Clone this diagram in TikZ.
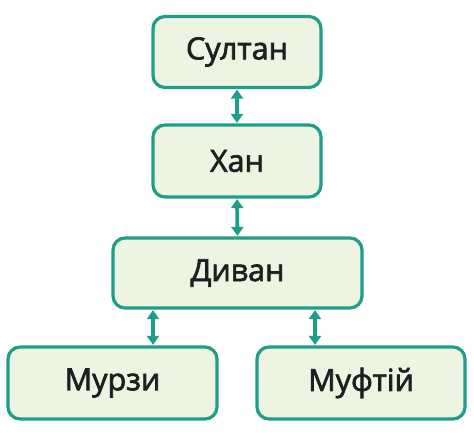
\documentclass[tikz,border=0pt]{standalone}
\usepackage{fontspec}
\newfontfamily\lblfont{Open Sans}[FakeBold=2.2]
\usetikzlibrary{arrows.meta}
\definecolor{edge}{HTML}{1E9E88}
\definecolor{boxfill}{HTML}{EDF4E2}
\tikzset{
  box/.style={draw=edge, line width=3.2pt, fill=boxfill, rounded corners=12pt,
    inner sep=0pt, font=\lblfont\fontsize{30.5}{33}\selectfont, text=black!88},
  link/.style={draw=edge, line width=3.8pt, {Triangle[width=12pt,length=9pt]}-{Triangle[width=12pt,length=9pt]}, shorten <=0.5pt, shorten >=0.5pt}
}
\begin{document}
\begin{tikzpicture}[x=1pt,y=-1pt]
\useasboundingbox (0,0) rectangle (474,433);
\node[box, minimum width=168pt, minimum height=71pt] (sultan) at (237,52) {Султан};
\node[box, minimum width=168pt, minimum height=72pt] (khan) at (237,161) {Хан};
\node[box, minimum width=249pt, minimum height=70pt] (divan) at (237.5,273) {Диван};
\node[box, minimum width=209pt, minimum height=72pt] (murzy) at (112.5,383) {Мурзи};
\node[box, minimum width=208pt, minimum height=72pt] (mufti) at (361,383) {Муфтій};
\draw[link] (sultan.south) -- (khan.north);
\draw[link] (khan.south) -- (divan.north);
\draw[link] ([xshift=-84.5pt]divan.south) -- ([xshift=40.5pt]murzy.north);
\draw[link] ([xshift=77.5pt]divan.south) -- ([xshift=-46pt]mufti.north);
\end{tikzpicture}
\end{document}
